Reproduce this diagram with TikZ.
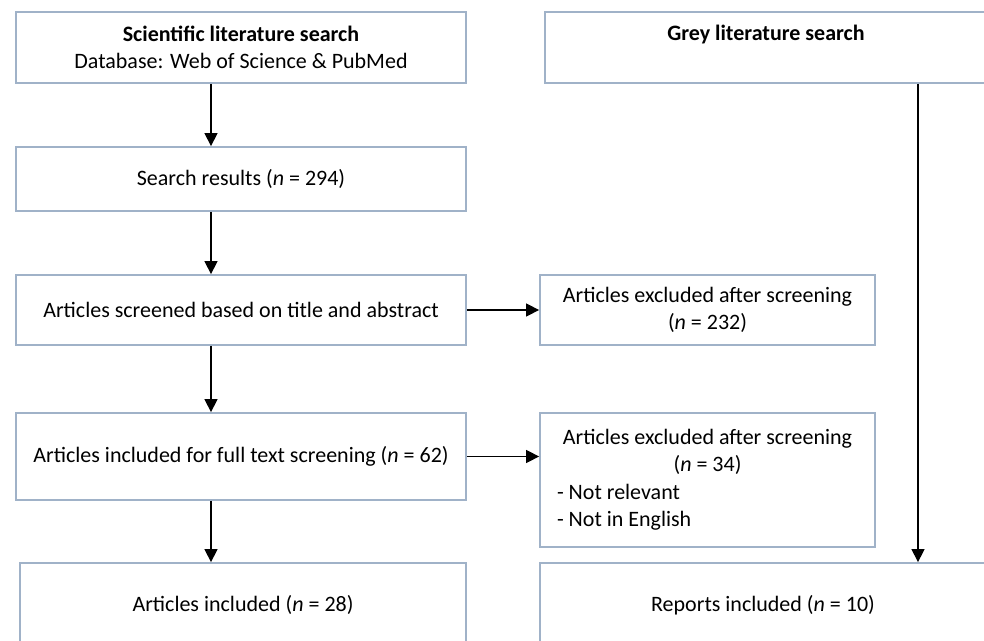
\documentclass[tikz,border=0pt]{standalone}
\usepackage{fontspec}
\setmainfont{Carlito}
\usetikzlibrary{arrows.meta}
\definecolor{boxline}{RGB}{160,178,200}
\begin{document}
\begin{tikzpicture}[x=0.5pt, y=-0.5pt,
    box/.style={draw=boxline, line width=0.9pt, inner sep=0pt, align=center,
        font=\fontsize{11}{13.75}\selectfont},
    arr/.style={-{Triangle[length=6.5pt, width=6.5pt]}, line width=0.7pt}]
    % Canvas
    \useasboundingbox (0,0) rectangle (984,641);
    \clip (0,0) rectangle (984,641);
    % Scientific literature column
    \node[box, minimum width=225pt, minimum height=35.5pt] (sci) at (241,47.5)
        {\textbf{Scientific literature search}\\Database: Web of Science \& PubMed};
    \node[box, minimum width=225pt, minimum height=32pt] (search) at (241,179)
        {Search results (\textit{n} = 294)};
    \node[box, minimum width=225pt, minimum height=35pt] (screen) at (241,310)
        {Articles screened based on title and abstract};
    \node[box, minimum width=225pt, minimum height=43.5pt] (full) at (241,456.5)
        {Articles included for full text screening (\textit{n} = 62)};
    \node[box, minimum width=223pt, minimum height=42pt] (incl) at (243,605)
        {Articles included (\textit{n} = 28)};
    % Exclusions
    \node[box, minimum width=167.5pt, minimum height=35pt] (excl1) at (707.5,310)
        {Articles excluded after screening\\(\textit{n} = 232)};
    \node[box, minimum width=167.5pt, minimum height=67pt, text width=150.5pt, align=flush left] (excl2) at (707.5,480)
        {{\centering Articles excluded after screening\\(\textit{n} = 34)\par}- Not relevant\\- Not in English};
    % Grey literature column
    \node[box, minimum width=221pt, minimum height=35.5pt] (grey) at (766,47.5)
        {\textbf{Grey literature search}\\[-3pt]\strut};
    \node[box, minimum width=223pt, minimum height=42pt] (reports) at (763,605)
        {Reports included (\textit{n} = 10)};
    % Arrows
    \coordinate (spine) at (211,0);
    \coordinate (greyline) at (918,0);
    \foreach \a/\b in {sci/search, search/screen, screen/full, full/incl}
        \draw[arr] (\a.south -| spine) -- (\b.north -| spine);
    \draw[arr] (grey.south -| greyline) -- (reports.north -| greyline);
    \draw[arr] (screen.east) -- (excl1.west);
    \draw[arr] (full.east) -- (full.east -| excl2.west);
\end{tikzpicture}
\end{document}
